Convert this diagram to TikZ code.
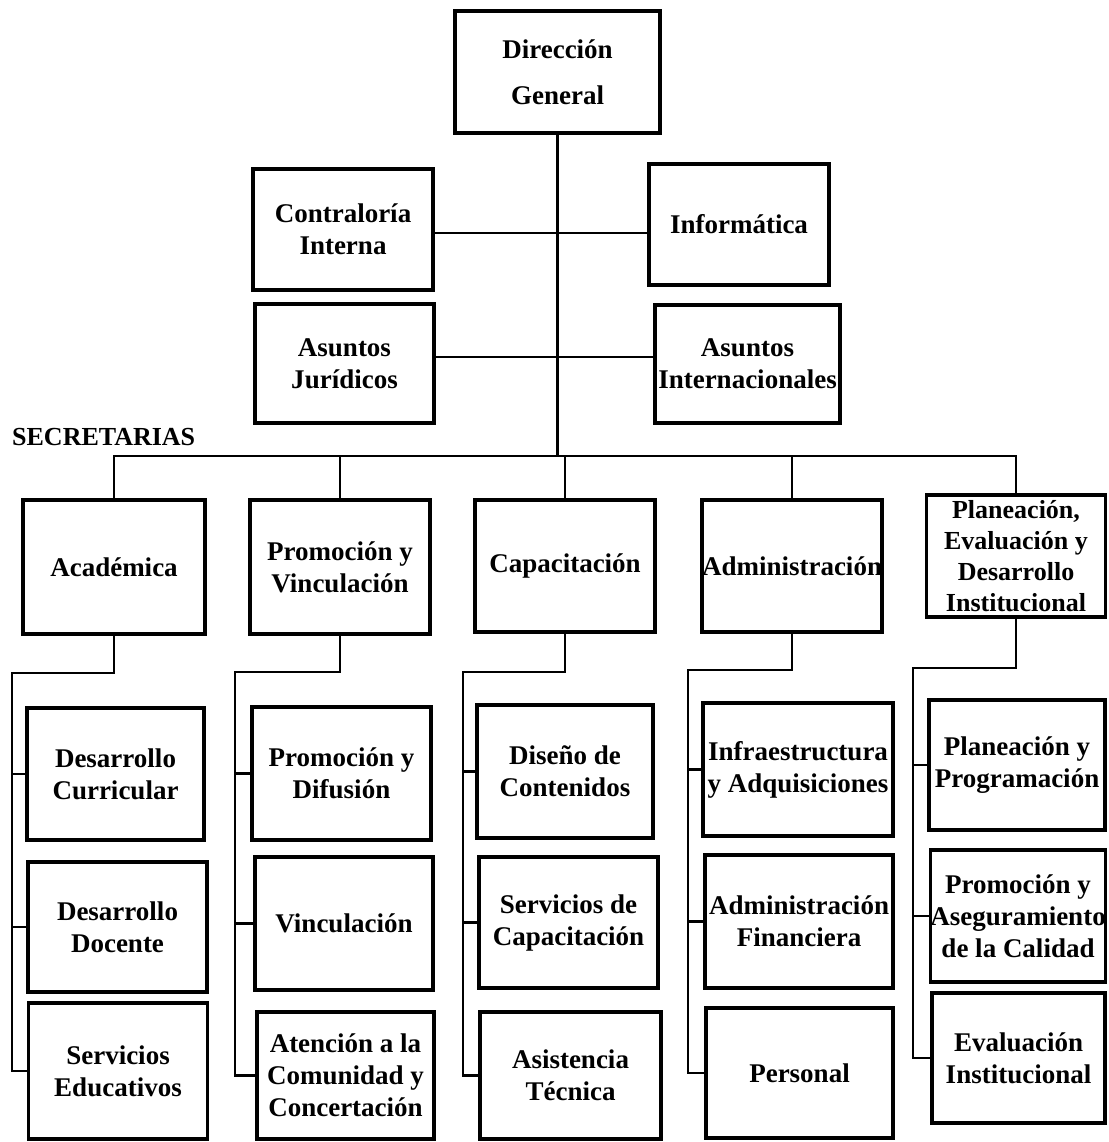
\documentclass[tikz,border=0pt]{standalone}
\usepackage{fontspec}
\setmainfont{Liberation Serif}
\begin{document}
\begin{tikzpicture}[x=1pt,y=-1pt,
    caja/.style={draw,line width=3.2pt,align=center,inner sep=0pt,
      font=\bfseries\fontsize{27}{32}\selectfont},
    linea/.style={line width=2.9pt}]
  \useasboundingbox (0,0) rectangle (1108,1142);
  \node[caja,minimum width=205pt,minimum height=122pt] (dg) at (557.5,72) {Dirección\\[14pt]General};
  \node[caja,minimum width=180pt,minimum height=121pt] (ci) at (343,229.5) {Contraloría\\Interna};
  \node[caja,minimum width=180pt,minimum height=121pt] (inf) at (739,224.5) {Informática};
  \node[caja,minimum width=179pt,minimum height=119pt] (aj) at (344.5,363.5) {Asuntos\\Jurídicos};
  \node[caja,minimum width=185pt,minimum height=118pt] (ai) at (747.5,364) {Asuntos\\Internacionales};
  \node[anchor=west,inner sep=0pt,font=\bfseries\fontsize{26}{30}\selectfont] (secr) at (12,437) {SECRETARIAS};
  \node[caja,minimum width=182pt,minimum height=134pt] (ac) at (114,567) {Académica};
  \node[caja,minimum width=180pt,minimum height=134pt] (pv) at (340,567) {Promoción y\\Vinculación};
  \node[caja,minimum width=180pt,minimum height=132pt] (ca) at (565,566) {Capacitación};
  \node[caja,minimum width=180pt,minimum height=132pt] (ad) at (792,566) {Administración};
  \node[caja,minimum width=179pt,minimum height=122pt,font=\bfseries\fontsize{26}{31}\selectfont] (pe) at (1016,556) {Planeación,\\Evaluación y\\Desarrollo\\Institucional};
  \node[caja,minimum width=177pt,minimum height=132pt] (ac1) at (115.5,774) {Desarrollo\\Curricular};
  \node[caja,minimum width=179pt,minimum height=130pt] (ac2) at (117.5,927) {Desarrollo\\Docente};
  \node[caja,minimum width=179pt,minimum height=136pt] (ac3) at (118,1071) {Servicios\\Educativos};
  \node[caja,minimum width=179pt,minimum height=133pt] (pv1) at (341.5,773.5) {Promoción y\\Difusión};
  \node[caja,minimum width=178pt,minimum height=133pt] (pv2) at (344,923.5) {Vinculación};
  \node[caja,minimum width=177pt,minimum height=127pt] (pv3) at (345.5,1075.5) {Atención a la\\Comunidad y\\Concertación};
  \node[caja,minimum width=176pt,minimum height=133pt] (ca1) at (565,771.5) {Diseño de\\Contenidos};
  \node[caja,minimum width=179pt,minimum height=131pt] (ca2) at (568.5,922.5) {Servicios de\\Capacitación};
  \node[caja,minimum width=181pt,minimum height=127pt] (ca3) at (570.5,1075.5) {Asistencia\\Técnica};
  \node[caja,minimum width=190pt,minimum height=133pt] (ad1) at (798,769.5) {Infraestructura\\y Adquisiciones};
  \node[caja,minimum width=188pt,minimum height=133pt] (ad2) at (799,921.5) {Administración\\Financiera};
  \node[caja,minimum width=187pt,minimum height=130pt] (ad3) at (799.5,1073) {Personal};
  \node[caja,minimum width=176pt,minimum height=130pt] (pe1) at (1017,765) {Planeación y\\Programación};
  \node[caja,minimum width=174pt,minimum height=132pt] (pe2) at (1018,916) {Promoción y\\Aseguramiento\\de la Calidad};
  \node[caja,minimum width=173pt,minimum height=130pt] (pe3) at (1018.5,1058) {Evaluación\\Institucional};

  \coordinate (sec) at (557.5,456);
  \coordinate (l1) at (0,233);
  \coordinate (l2) at (0,357);
  \draw[linea] (dg.south) -- (sec);
  \draw[linea] (ci.east |- l1) -- (inf.west |- l1);
  \draw[linea] (aj.east |- l2) -- (ai.west |- l2);
  \draw[linea] (ac.north) |- (sec) -| (pe.north);
  \draw[linea] (pv.north) -- (pv.north |- sec);
  \draw[linea] (ca.north) -- (ca.north |- sec);
  \draw[linea] (ad.north) -- (ad.north |- sec);

  \coordinate (acs) at (12,673);
  \coordinate (pvs) at (235,672);
  \coordinate (cas) at (463,672);
  \coordinate (ads) at (688,670);
  \coordinate (pes) at (913,668);
  \draw[linea] (ac.south) |- (acs) |- (ac3.west);
  \draw[linea] (ac1.west) -- (ac1.west -| acs);
  \draw[linea] (ac2.west) -- (ac2.west -| acs);
  \draw[linea] (pv.south) |- (pvs) |- (pv3.west);
  \draw[linea] (pv1.west) -- (pv1.west -| pvs);
  \draw[linea] (pv2.west) -- (pv2.west -| pvs);
  \draw[linea] (ca.south) |- (cas) |- (ca3.west);
  \draw[linea] (ca1.west) -- (ca1.west -| cas);
  \draw[linea] (ca2.west) -- (ca2.west -| cas);
  \draw[linea] (ad.south) |- (ads) |- (ad3.west);
  \draw[linea] (ad1.west) -- (ad1.west -| ads);
  \draw[linea] (ad2.west) -- (ad2.west -| ads);
  \draw[linea] (pe.south) |- (pes) |- (pe3.west);
  \draw[linea] (pe1.west) -- (pe1.west -| pes);
  \draw[linea] (pe2.west) -- (pe2.west -| pes);
\end{tikzpicture}
\end{document}
